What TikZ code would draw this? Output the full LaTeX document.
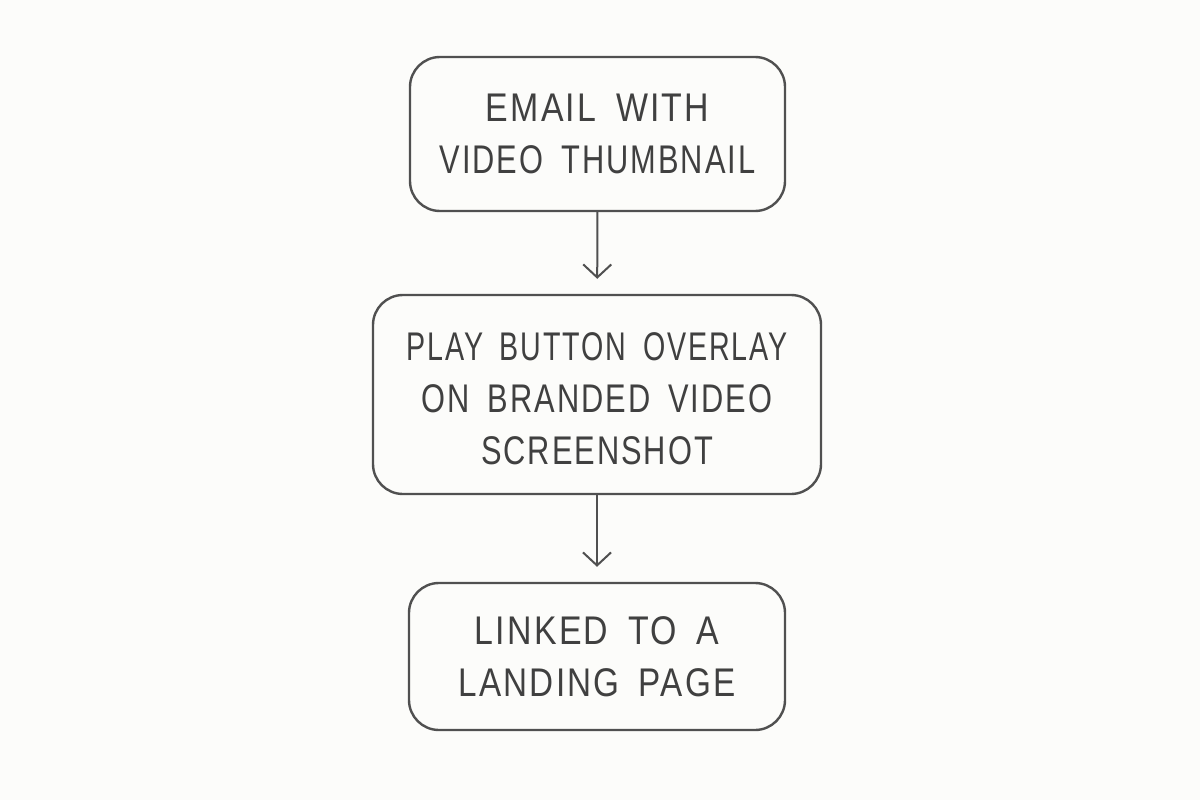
\documentclass[tikz,border=0pt]{standalone}
\usepackage{fontspec}
\usepackage{graphicx}
\setmainfont{Liberation Sans}[FakeStretch=0.77, LetterSpace=5, WordSpace=1.7]
\usetikzlibrary{arrows.meta}
\definecolor{bg}{HTML}{FCFCFA}
\definecolor{ink}{HTML}{505050}
\definecolor{txt}{HTML}{404040}
\tikzset{
  stepbox/.style={draw=ink, line width=2.4pt, rounded corners=30pt, align=center,
    text=txt, font=\fontsize{40}{52}\selectfont, inner sep=0pt},
  flow/.style={draw=ink, line width=2pt, -{Straight Barb[length=13pt,width=28pt,line width=2pt]}, shorten >=15pt}
}
\begin{document}
\begin{tikzpicture}[x=1pt,y=-1pt]
\useasboundingbox[fill=bg] (0,0) rectangle (1200,800);
\node[stepbox, minimum width=375pt, minimum height=154pt] (b1) at (597.5,134) {\scalebox{1.1}[1]{EMAIL WITH}\\VIDEO THUMBNAIL};
\node[stepbox, minimum width=448pt, minimum height=199pt] (b2) at (597,394.5) {\rule{0pt}{37pt}\scalebox{0.93}[1]{PLAY BUTTON OVERLAY}\\ON BRANDED VIDEO\\SCREENSHOT};
\node[stepbox, minimum width=376pt, minimum height=147pt] (b3) at (597,656.5) {\scalebox{1.1}[1]{LINKED TO A}\\\scalebox{1.08}[1]{LANDING PAGE}};
\draw[flow] (b1) -- (b2);
\draw[flow] (b2) -- (b3);
\end{tikzpicture}
\end{document}
